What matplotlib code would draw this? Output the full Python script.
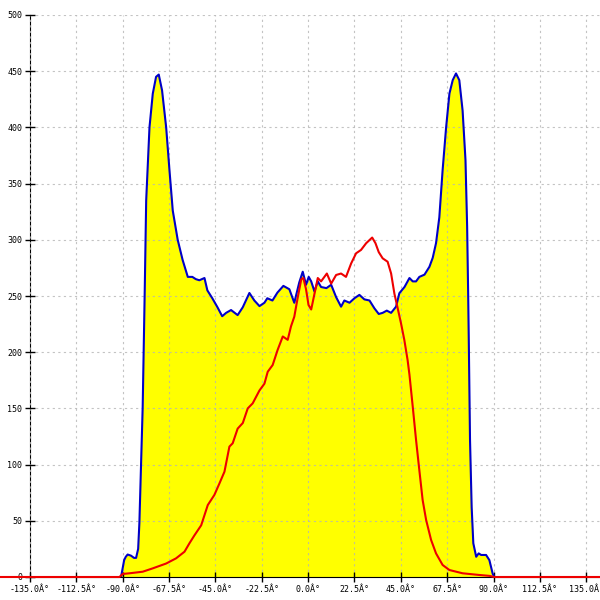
import numpy as np
import matplotlib.pyplot as plt

# blue envelope (filled yellow)
blue_x = [-90.8, -90.0, -89.3, -88.5, -87.6, -86.0, -84.5, -83.5, -82.5, -81.9, -80.3, -79.3,
          -78.6, -77.0, -75.4, -73.8, -72.5, -70.9, -68.9, -67.3, -65.7, -63.3, -60.9, -58.4,
          -56.2, -54.5, -52.8, -50.3, -48.9, -46.5, -44.0, -41.7, -39.8, -37.4, -34.2, -31.7,
          -28.5, -26.1, -23.6, -21.2, -19.8, -17.3, -14.9, -12.0, -9.1, -6.7, -4.3, -2.6,
          -1.0, 0.3, 1.5, 3.1, 4.7, 6.3, 8.9, 11.2, 13.6, 16.0, 17.6, 20.1, 22.5, 24.9, 27.3,
          29.8, 32.2, 34.3, 36.2, 38.2, 40.3, 42.7, 44.3, 46.8, 49.2, 50.8, 52.4, 54.0, 56.5,
          58.9, 60.5, 62.1, 63.7, 65.3, 67.0, 68.6, 70.2, 71.8, 73.4, 75.0, 76.4, 77.2, 77.7,
          78.0, 78.6, 79.4, 80.2, 81.6, 82.8, 84.0, 86.4, 88.0, 89.6, 90.4]
blue_y = [0, 8, 15, 18, 20, 19, 17, 17, 25, 48, 151, 255,
          335, 400, 430, 445, 447, 433, 400, 362, 326, 300, 282, 267,
          267, 265, 264, 266, 255, 248, 240, 232, 235, 237.5, 233, 240,
          252.7, 246, 241, 244, 248, 246, 253, 259, 256, 244, 262, 271.6,
          260, 267, 263, 254, 263, 258, 257, 260, 249, 240.5, 246, 244, 248, 251, 247,
          246, 239, 234, 235, 237, 235, 240.5, 252.5, 258, 266, 263, 263, 267, 269,
          276, 284, 297, 320, 362, 400, 430, 442, 448, 442, 415, 371, 312, 252,
          211, 122, 62, 30, 18, 21, 19.6, 19.6, 15, 3, 0]

# red curve
red_x = [-150, -91.6, -90.0, -86.7, -80.3, -75.4, -68.9, -64.1, -60.0, -57.6, -55.2, -51.9,
         -48.7, -45.5, -43.1, -40.6, -38.2, -36.6, -34.2, -31.7, -29.3, -26.9, -23.6, -21.2,
         -19.6, -17.2, -14.8, -12.3, -9.9, -8.3, -6.7, -5.0, -3.3, -2.3, -1.0, 0.2, 1.5, 3.1,
         4.7, 6.3, 9.1, 11.2, 13.6, 16.0, 18.4, 20.9, 23.3, 25.7, 28.2, 31.1, 32.7, 34.3,
         36.2, 38.6, 40.3, 41.9, 43.5, 45.1, 46.7, 48.3, 49.2, 50.8, 52.4, 54.0, 55.6, 57.3,
         59.7, 62.1, 65.3, 68.6, 75.0, 83.1, 88.0, 90.4, 145]
red_y = [0, 0, 2.7, 3.3, 4.7, 7.7, 12, 16.6, 22.5, 30, 37, 46,
         64, 73, 83, 93.7, 116, 119, 132, 137, 150, 154.5, 166, 172,
         182.6, 188.6, 202, 214, 211, 223, 231.6, 249, 265, 266, 256, 242, 238, 252,
         266, 263, 270, 261, 268.7, 270, 267, 279, 288, 291, 297, 302, 297, 289,
         283.5, 280.5, 270, 252, 239, 225.7, 211, 193, 180, 151.5, 122, 95, 68.5, 50.7,
         33, 21, 10.7, 6.2, 3.3, 1.8, 1, 0, 0]

x_ticks = np.arange(-135, 135.1, 22.5)
x_labels = ["%.1fÂ°" % v for v in x_ticks]
y_ticks = np.arange(0, 501, 50)

fig = plt.figure(figsize=(6, 6), dpi=100)
ax = fig.add_axes([0.05, 23 / 600, 0.95, 562 / 600])

ax.fill_between(blue_x, blue_y, 0, color="#ffff00", lw=0, zorder=1)
ax.plot(blue_x, blue_y, color="#0000c8", lw=1.5, zorder=3)
ax.plot(red_x, red_y, color="#ee0000", lw=1.5, zorder=4, clip_on=False)

ax.set_xlim(-135, -135 + 570 / 2.06)
ax.set_ylim(0, 500)
ax.set_xticks(x_ticks)
ax.set_xticklabels(x_labels)
ax.set_yticks(y_ticks)
ax.set_yticklabels([str(v) for v in y_ticks])

for lab in ax.get_xticklabels() + ax.get_yticklabels():
    lab.set_family("DejaVu Sans Mono")
    lab.set_fontsize(6)

ax.tick_params(axis="both", direction="inout", length=7, width=1, pad=2)
ax.grid(True, color="#b4b4b4", linestyle=(0, (2, 3)), lw=0.8, alpha=0.8, zorder=2)
ax.set_axisbelow(False)

ax.spines["top"].set_visible(False)
ax.spines["right"].set_visible(False)

fig.savefig("out.png", dpi=100)
